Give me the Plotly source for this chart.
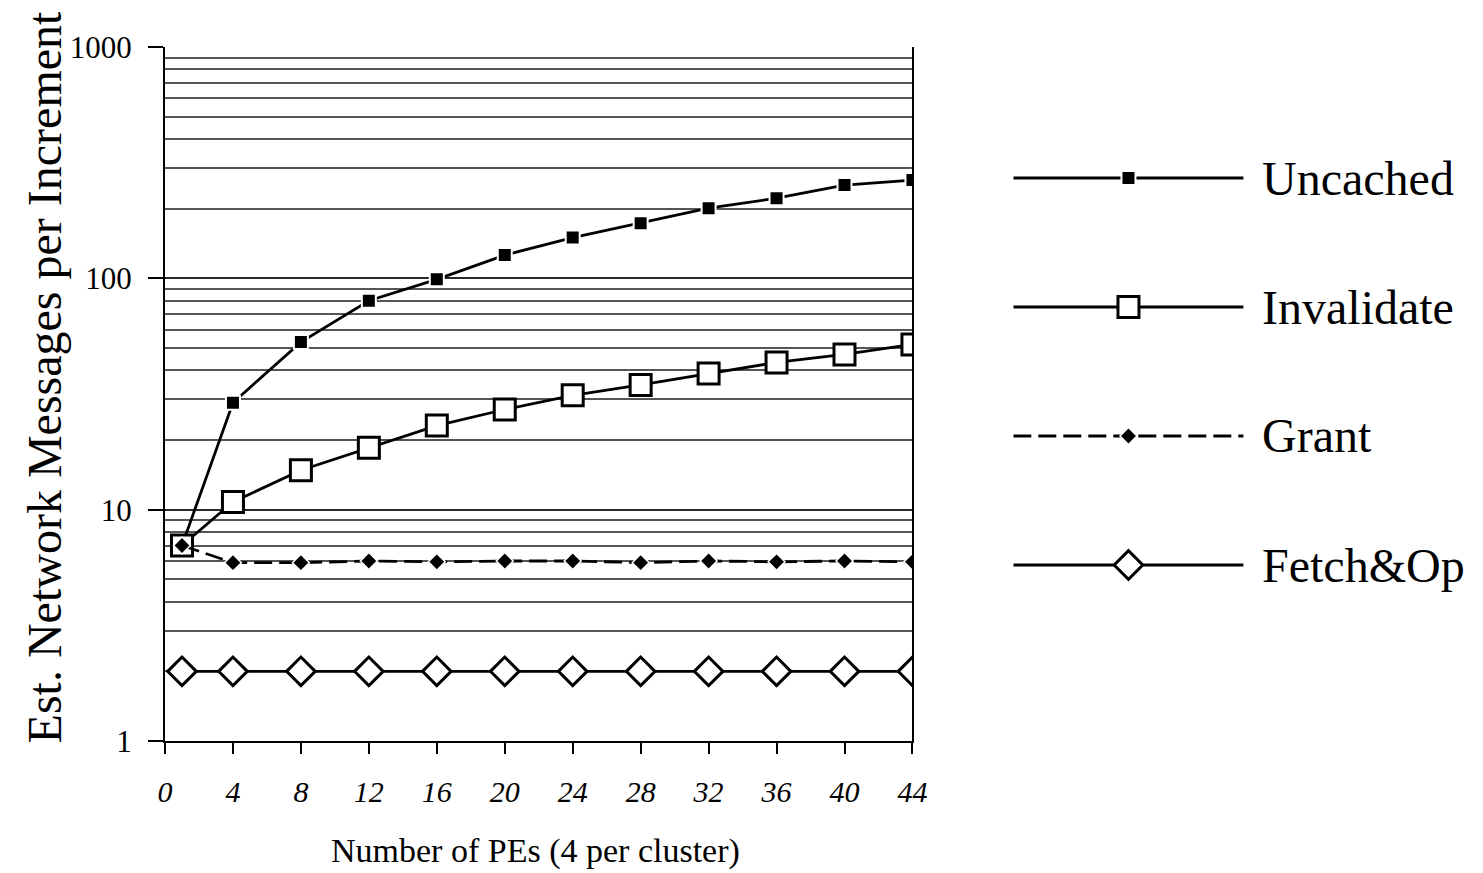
import plotly.graph_objects as go

# ---------------- data ----------------
pes = [1, 4, 8, 12, 16, 20, 24, 28, 32, 36, 40, 44]
uncached = [7, 29, 53, 80, 99, 126, 150, 173, 201, 222, 253, 266]
invalidate = [7, 10.8, 14.8, 18.5, 23.1, 27.1, 31.2, 34.6, 38.8, 43.3, 46.9, 51.8]
grant = [7, 5.9, 5.9, 6.0, 5.95, 6.0, 6.0, 5.9, 6.0, 5.95, 6.0, 5.95]
fetchop = [2, 2, 2, 2, 2, 2, 2, 2, 2, 2, 2, 2]

series_names = ["Uncached", "Invalidate", "Grant", "Fetch&Op"]
x_tick_vals = [0, 4, 8, 12, 16, 20, 24, 28, 32, 36, 40, 44]
y_tick_vals = [1, 10, 100, 1000]
y_tick_text = ["1", "10", "100", "1000"]

x_title = "Number of PEs (4 per cluster)"
y_title = "Est. Network Messages per Increment"

# ---------------- styling ----------------
OFFX, OFFY = 0, 8  # observed page offset of the figure
W, H = 1483 - OFFX, 873 - OFFY
ML, MT = 157 - OFFX, 47 - OFFY
PLOT_RIGHT, PLOT_BOTTOM = 913 - OFFX, 741 - OFFY
MB = H - PLOT_BOTTOM
PW, PH = W - ML, PLOT_BOTTOM - MT
FONT = "Liberation Serif"


def px_x(xp):
    return (xp - OFFX - ML) / PW


def px_y(yp):
    return (PLOT_BOTTOM - (yp - OFFY)) / PH


styles = [
    dict(line=dict(color="black", width=2.8),
         marker=dict(symbol="square", size=14, color="black",
                     line=dict(color="white", width=2))),
    dict(line=dict(color="black", width=2.8),
         marker=dict(symbol="square", size=21, color="white",
                     line=dict(color="black", width=3))),
    dict(line=dict(color="black", width=2.8, dash="18px,7px"),
         marker=dict(symbol="diamond", size=13, color="black",
                     line=dict(color="white", width=1.5))),
    dict(line=dict(color="black", width=2.8),
         marker=dict(symbol="diamond", size=22, color="white",
                     line=dict(color="black", width=3))),
]
values = [uncached, invalidate, grant, fetchop]

fig = go.Figure()
for name, vals, st in zip(series_names, values, styles):
    fig.add_trace(go.Scatter(x=pes, y=vals, name=name, mode="lines+markers",
                             line=st["line"], marker=st["marker"],
                             showlegend=False, xaxis="x", yaxis="y"))

# ---------------- custom legend (long sample lines) ----------------
legend_rows_px = [178, 307, 436, 565]
leg_x0, leg_x1, leg_text_x = 1015, 1248, 1265
for name, st, ypx in zip(series_names, styles, legend_rows_px):
    yr = px_y(ypx)
    fig.add_trace(go.Scatter(x=[0, 1], y=[yr, yr], mode="lines",
                             line=st["line"], showlegend=False,
                             hoverinfo="skip", xaxis="x2", yaxis="y2"))
    fig.add_trace(go.Scatter(x=[0.5], y=[yr], mode="markers",
                             marker=st["marker"], showlegend=False,
                             hoverinfo="skip", xaxis="x2", yaxis="y2"))
    fig.add_annotation(text=name, xref="paper", yref="paper",
                       x=px_x(leg_text_x), y=yr, xanchor="left",
                       yanchor="middle", showarrow=False,
                       font=dict(family=FONT, size=48, color="black"))

minor_vals = [m * 10 ** e for e in range(3) for m in range(2, 10)]
x_dom = [0, px_x(913)]

fig.update_layout(
    width=W, height=H,
    margin=dict(l=ML, r=0, t=MT, b=MB, pad=0),
    paper_bgcolor="white", plot_bgcolor="white",
    font=dict(family=FONT, color="black"),
    xaxis=dict(domain=x_dom, range=[0, 44], tickmode="array",
               tickvals=x_tick_vals, ticks="outside", ticklen=11,
               tickwidth=1.5, tickcolor="black", showgrid=False,
               zeroline=False, showline=True, linecolor="black",
               linewidth=2, ticklabelstandoff=12,
               tickfont=dict(family=FONT, size=30, style="italic")),
    xaxis3=dict(domain=x_dom, range=[0, 44], overlaying="x", anchor="y",
                tickmode="array", tickvals=x_tick_vals, ticks="inside",
                ticklen=11, tickwidth=1.5, tickcolor="black",
                showticklabels=False, showgrid=False, zeroline=False,
                showline=False),
    yaxis=dict(type="log", range=[0, 3], tickmode="array",
               tickvals=y_tick_vals, ticktext=y_tick_text,
               ticks="outside", ticklen=15, tickwidth=1.5, tickcolor="black",
               showgrid=True, gridcolor="#2a2a2a", gridwidth=1.5,
               zeroline=False, showline=True, linecolor="black",
               linewidth=2, mirror=True, ticklabelstandoff=10,
               tickfont=dict(family=FONT, size=31),
               minor=dict(tickmode="array", tickvals=minor_vals,
                          showgrid=True, gridcolor="#555555",
                          gridwidth=1.5, ticks="")),
    xaxis2=dict(domain=[px_x(leg_x0), px_x(leg_x1)],
                range=[0, 1], visible=False, anchor="y2"),
    yaxis2=dict(domain=[0, 1], range=[0, 1], visible=False, anchor="x2"),
)

fig.add_annotation(text=y_title, xref="paper", yref="paper",
                   x=px_x(35), y=px_y(377),
                   xanchor="center", yanchor="middle", textangle=-90,
                   showarrow=False,
                   font=dict(family=FONT, size=48, color="black"))
fig.add_annotation(text=x_title, xref="paper", yref="paper",
                   x=px_x(532), y=px_y(851),
                   xanchor="center", yanchor="middle", showarrow=False,
                   font=dict(family=FONT, size=34, color="black"))

fig.write_html("out.html")
